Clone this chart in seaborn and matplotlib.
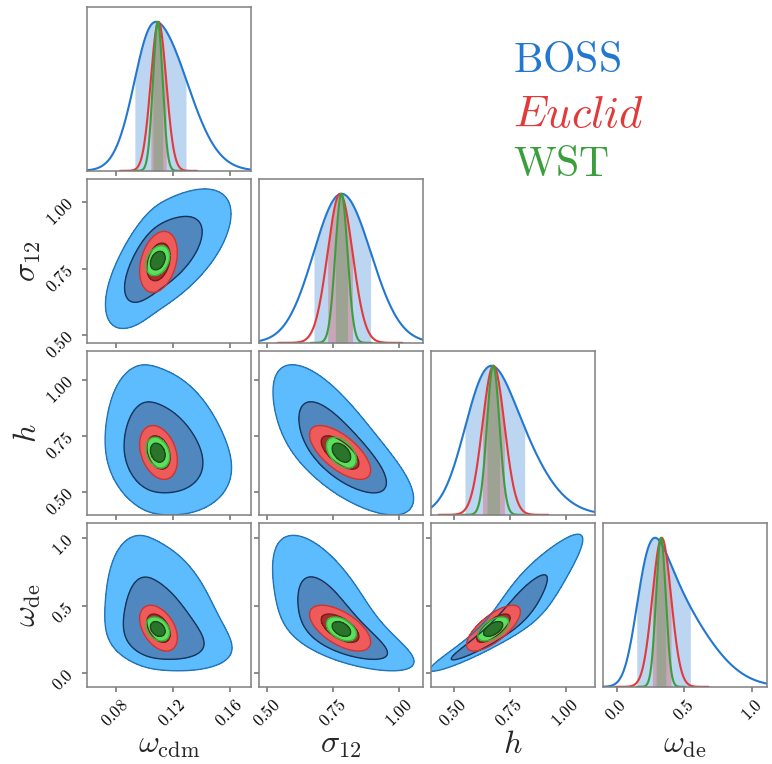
import numpy as np
import matplotlib
matplotlib.use("Agg")
import matplotlib.pyplot as plt
import seaborn as sns
from matplotlib.ticker import FixedLocator, FuncFormatter


LABELS = [r"$\omega_{\rm cdm}$", r"$\sigma_{12}$", r"$h$", r"$\omega_{\rm de}$"]
RANGES = [(0.060, 0.175), (0.471, 1.089), (0.400, 1.131), (-0.100, 1.110)]
TICKS = [[0.08, 0.12, 0.16], [0.50, 0.75, 1.00], [0.50, 0.75, 1.00], [0.0, 0.5, 1.0]]
DECIMALS = [2, 2, 2, 1]

SURVEYS = ["BOSS", "Euclid", "WST"]
# per parameter (omega_cdm, sigma12, h, omega_de): peak, width below, width above
BOSS_PEAK = [0.1083, 0.782, 0.669, 0.284]
BOSS_SIG_LO = [0.0145, 0.105, 0.108, 0.095]
BOSS_SIG_HI = [0.0215, 0.110, 0.165, 0.300]
# where (offset from peak) and how fast the width switches
BOSS_SWITCH = [0.0, 0.0, 0.10, 0.15]
BOSS_SWITCH_W = [0.006, 0.04, 0.10, 0.15]
EUCLID_PEAK = [0.1100, 0.776, 0.678, 0.333]
EUCLID_SIG = [0.0054, 0.047, 0.049, 0.069]
WST_PEAK = [0.1095, 0.781, 0.677, 0.327]
WST_SIG = [0.0034, 0.023, 0.028, 0.036]
NO_SWITCH = [0.0, 0.0, 0.0, 0.0]
# correlations: cdm-s12, cdm-h, cdm-de, s12-h, s12-de, h-de
BOSS_CORR = [0.65, -0.20, -0.30, -0.72, -0.70, 0.95]
EUCLID_CORR = [0.30, -0.30, -0.42, -0.66, -0.60, 0.72]
WST_CORR = [0.30, -0.25, -0.30, -0.45, -0.42, 0.55]

MODELS = {
	"BOSS": (BOSS_PEAK, BOSS_SIG_LO, BOSS_SIG_HI, BOSS_SWITCH, BOSS_SWITCH_W, BOSS_CORR),
	"Euclid": (EUCLID_PEAK, EUCLID_SIG, EUCLID_SIG, NO_SWITCH, EUCLID_SIG, EUCLID_CORR),
	"WST": (WST_PEAK, WST_SIG, WST_SIG, NO_SWITCH, WST_SIG, WST_CORR),
}
LINE_COLORS = {"BOSS": "#2277d0", "Euclid": "#e23a3a", "WST": "#3a9f3a"}
FILL_COLORS = {
	"BOSS": ("#5dbcfd", "#5087bf"),
	"Euclid": ("#ef5a5a", "#a82e2e"),
	"WST": ("#5ae05c", "#2b752b"),
}
EDGE_COLORS = {
	"BOSS": ("#2273b8", "#15355a"),
	"Euclid": ("#c93535", "#7a1c1c"),
	"WST": ("#37b53a", "#1c4a1c"),
}
PAIRS = [(0, 1), (0, 2), (0, 3), (1, 2), (1, 3), (2, 3)]


def corr_value(corr, i, j):
	return corr[PAIRS.index((min(i, j), max(i, j)))]


def reduced(x, k, name):
	# split-normal coordinate with a smooth change of width
	peak, lo, hi, shift, width, _ = MODELS[name]
	step = 1 / (1 + np.exp(-(x - peak[k] - shift[k]) / width[k]))
	sig = lo[k] + (hi[k] - lo[k]) * step
	return (x - peak[k]) / sig


def grid(k, name, n):
	peak, lo, hi = MODELS[name][:3]
	return np.linspace(peak[k] - 5 * lo[k], peak[k] + 5 * hi[k], n)


def hpd_threshold(density, frac):
	flat = np.sort(density.ravel())[::-1]
	cum = np.cumsum(flat)
	cum /= cum[-1]
	return flat[np.searchsorted(cum, frac)]


def plot_diag(ax, k):
	for name in SURVEYS:
		x = grid(k, name, 2000)
		pdf = np.exp(-0.5 * reduced(x, k, name) ** 2)
		thr = hpd_threshold(pdf, 0.68)
		sns.lineplot(x=x, y=pdf, ax=ax, color=LINE_COLORS[name], lw=1.5,
			estimator=None, sort=False)
		ax.fill_between(x, 0, pdf, where=pdf >= thr,
			color=LINE_COLORS[name], alpha=0.3, lw=0)


def plot_pair(ax, i, j):
	for name in SURVEYS:
		r = corr_value(MODELS[name][5], i, j)
		xx, yy = np.meshgrid(grid(j, name, 400), grid(i, name, 400))
		u = reduced(xx, j, name)
		v = reduced(yy, i, name)
		p = np.exp(-0.5 * (u ** 2 - 2 * r * u * v + v ** 2) / (1 - r ** 2))
		t68 = hpd_threshold(p, 0.68)
		t95 = hpd_threshold(p, 0.95)
		ax.contourf(xx, yy, p, levels=[t95, t68, 2.0],
			colors=list(FILL_COLORS[name]))
		ax.contour(xx, yy, p, levels=[t95, t68],
			colors=list(EDGE_COLORS[name]), linewidths=1.0)


def fmt(d):
	return FuncFormatter(lambda v, p: f"${v:.{d}f}$")


def main():
	sns.set_theme(style="ticks")
	plt.rcParams.update({
		"mathtext.fontset": "cm",
		"font.family": ["DejaVu Serif"],
		"axes.edgecolor": "#7f7f7f",
		"axes.linewidth": 1.1,
		"xtick.color": "#7f7f7f",
		"ytick.color": "#7f7f7f",
		"xtick.labelcolor": "black",
		"ytick.labelcolor": "black",
		"xtick.major.size": 3.5,
		"ytick.major.size": 3.5,
	})
	fig, axes = plt.subplots(4, 4, figsize=(7.72, 7.64), dpi=100)
	fig.subplots_adjust(left=0.113, right=0.9935, top=0.991, bottom=0.101,
		wspace=0.049, hspace=0.049)
	for i in range(4):
		for j in range(4):
			ax = axes[i, j]
			if j > i:
				ax.remove()
				continue
			if i == j:
				plot_diag(ax, i)
				ax.set_ylim(0, 1.1)
				ax.set_yticks([])
			else:
				plot_pair(ax, i, j)
				ax.set_ylim(RANGES[i])
				ax.yaxis.set_major_locator(FixedLocator(TICKS[i]))
				ax.yaxis.set_major_formatter(fmt(DECIMALS[i]))
				if j == 0:
					ax.tick_params(axis="y", labelrotation=45, labelsize=12)
				else:
					ax.tick_params(axis="y", labelleft=False)
			if j == 0 and i > 0:
				ax.set_ylabel(LABELS[i], fontsize=23)
				ax.yaxis.set_label_coords(-0.27, 0.5)
			else:
				ax.set_ylabel("")
			ax.set_xlim(RANGES[j])
			ax.xaxis.set_major_locator(FixedLocator(TICKS[j]))
			ax.xaxis.set_major_formatter(fmt(DECIMALS[j]))
			if i == 3:
				ax.tick_params(axis="x", labelrotation=45, labelsize=12)
				ax.set_xlabel(LABELS[j], fontsize=23)
				ax.xaxis.set_label_coords(0.5, -0.26)
			else:
				ax.tick_params(axis="x", labelbottom=False)
				ax.set_xlabel("")

	legend_y = [0.906, 0.834, 0.769]
	legend_txt = [r"$\mathrm{BOSS}$", r"$Euclid$", r"$\mathrm{WST}$"]
	legend_size = [30, 32, 30]
	for name, txt, y, fs in zip(SURVEYS, legend_txt, legend_y, legend_size):
		fig.text(0.664, y, txt, color=LINE_COLORS[name], fontsize=fs,
			va="baseline", ha="left")
	fig.savefig("out.png", dpi=100)


if __name__ == "__main__":
	main()
